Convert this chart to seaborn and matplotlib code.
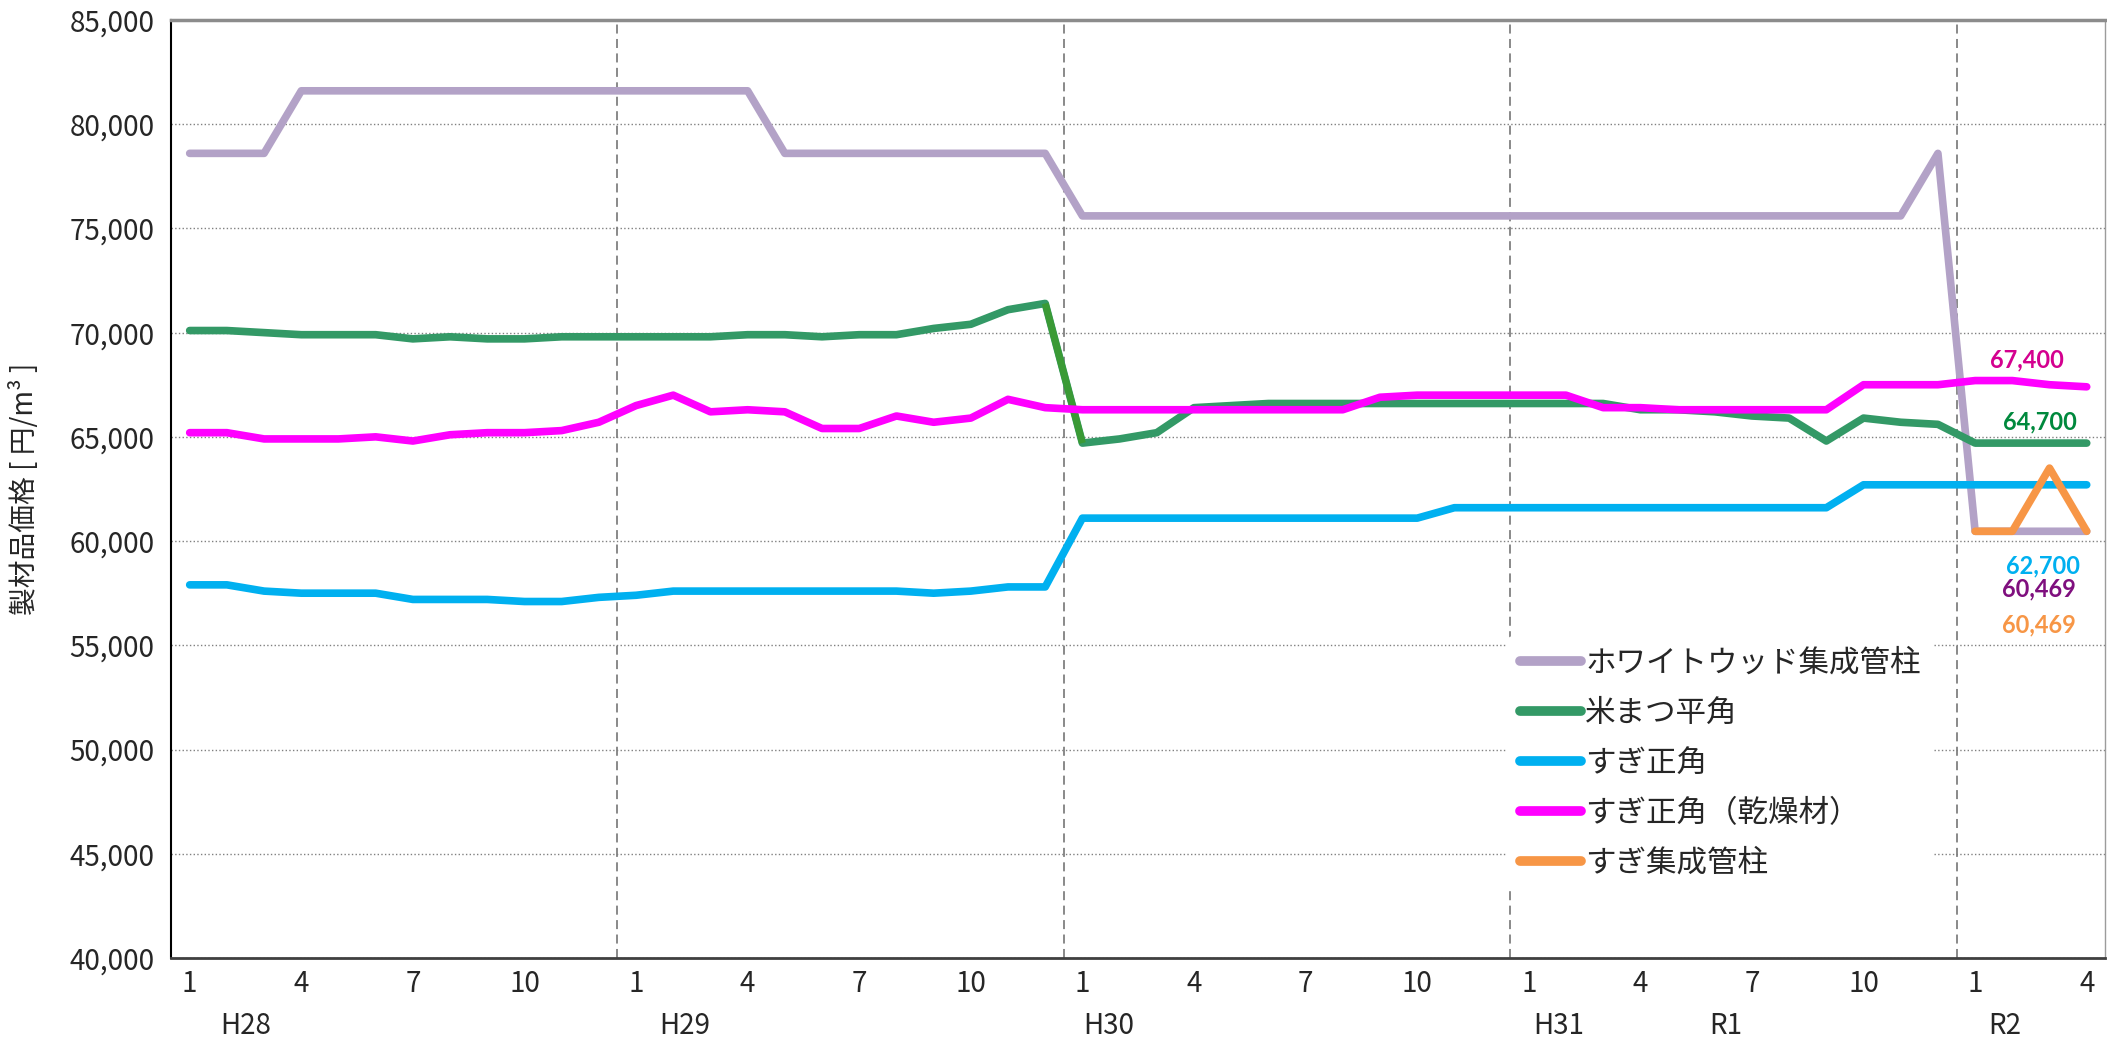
import numpy as np
import pandas as pd
import matplotlib
matplotlib.use('Agg')
import matplotlib.pyplot as plt
import matplotlib.transforms as mtransforms
from matplotlib.ticker import FuncFormatter
import seaborn as sns

# 月 (H28.1 ～ R2.4)
months = [m for _ in range(4) for m in range(1, 13)] + [1, 2, 3, 4]
eras = ['H28', 'H29', 'H30', 'H31', 'R1', 'R2']
era_pos = [1.5, 13.3, 24.7, 36.8, 41.3, 48.8]

names = ['ホワイトウッド集成管柱', '米まつ平角', 'すぎ正角', 'すぎ正角（乾燥材）', 'すぎ集成管柱']
colors = ['#B3A2C7', '#339966', '#00B0F0', '#FF00FF', '#F79646']

whitewood = [78600, 78600, 78600, 81600, 81600, 81600, 81600, 81600, 81600, 81600, 81600, 81600,
             81600, 81600, 81600, 81600, 78600, 78600, 78600, 78600, 78600, 78600, 78600, 78600,
             75600, 75600, 75600, 75600, 75600, 75600, 75600, 75600, 75600, 75600, 75600, 75600,
             75600, 75600, 75600, 75600, 75600, 75600, 75600, 75600, 75600, 75600, 75600, 78600,
             60469, 60469, 60469, 60469]
beimatsu = [70100, 70100, 70000, 69900, 69900, 69900, 69700, 69800, 69700, 69700, 69800, 69800,
            69800, 69800, 69800, 69900, 69900, 69800, 69900, 69900, 70200, 70400, 71100, 71400,
            64700, 64900, 65200, 66400, 66500, 66600, 66600, 66600, 66600, 66600, 66600, 66600,
            66600, 66600, 66600, 66300, 66300, 66200, 66000, 65900, 64800, 65900, 65700, 65600,
            64700, 64700, 64700, 64700]
sugi = [57900, 57900, 57600, 57500, 57500, 57500, 57200, 57200, 57200, 57100, 57100, 57300,
        57400, 57600, 57600, 57600, 57600, 57600, 57600, 57600, 57500, 57600, 57800, 57800,
        61100, 61100, 61100, 61100, 61100, 61100, 61100, 61100, 61100, 61100, 61600, 61600,
        61600, 61600, 61600, 61600, 61600, 61600, 61600, 61600, 61600, 62700, 62700, 62700,
        62700, 62700, 62700, 62700]
sugi_dry = [65200, 65200, 64900, 64900, 64900, 65000, 64800, 65100, 65200, 65200, 65300, 65700,
            66500, 67000, 66200, 66300, 66200, 65400, 65400, 66000, 65700, 65900, 66800, 66400,
            66300, 66300, 66300, 66300, 66300, 66300, 66300, 66300, 66900, 67000, 67000, 67000,
            67000, 67000, 66400, 66400, 66300, 66300, 66300, 66300, 66300, 67500, 67500, 67500,
            67700, 67700, 67500, 67400]
sugi_glulam = [np.nan] * 48 + [60469, 60469, 63500, 60469]

series = [whitewood, beimatsu, sugi, sugi_dry, sugi_glulam]
idx = list(range(len(months)))

df = pd.concat([pd.DataFrame({'idx': idx, 'price': v, 'series': n}) for n, v in zip(names, series)])
df = df.dropna()

sns.set_style('white')
plt.rcParams['font.family'] = ['Noto Sans CJK JP', 'DejaVu Sans']

fig = plt.figure(figsize=(21.07, 10.44), dpi=100)
ax = fig.add_axes([0.0812, 0.0824, 0.918, 0.8985])

sns.lineplot(data=df, x='idx', y='price', hue='series', hue_order=names, palette=colors,
             linewidth=5.5, estimator=None, sort=False, ax=ax)

for ln in ax.lines:
    ln.set_solid_capstyle('round')
    ln.set_solid_joinstyle('round')
# 乾燥材・集成管柱を前面に
ax.lines[3].set_zorder(2.6)
ax.lines[4].set_zorder(2.7)

# 米まつ平角 H29.12 -> H30.1 の区間だけ色が違う
ax.plot(idx[23:25], beimatsu[23:25], color='#3A9A35', lw=5, zorder=2.3, solid_capstyle='butt')

ax.set_xlim(-0.5, len(months) - 0.5)
ax.set_ylim(40000, 85000)
ax.set_yticks(range(40000, 85001, 5000))
ax.yaxis.set_major_formatter(FuncFormatter(lambda v, p: f'{int(v):,}'))
ax.yaxis.grid(True, linestyle=':', color='#808080', linewidth=1)
ax.xaxis.grid(False)

# 年の区切り（破線）
for i, m in enumerate(months):
    if m == 1 and i > 0:
        ax.axvline(i - 0.5, color='#808080', linestyle=(0, (5, 3)), linewidth=1.3, zorder=1)

show = [i for i, m in enumerate(months) if m in (1, 4, 7, 10)]
ax.set_xticks(show)
ax.set_xticklabels([str(months[i]) for i in show], fontsize=20)
ax.set_xticks([i - 0.5 for i, m in enumerate(months) if m in (1, 7) and i > 0], minor=True)
ax.tick_params(axis='x', which='major', length=0, pad=8)
ax.tick_params(axis='x', which='minor', length=6, direction='in', color='#404040')
ax.tick_params(axis='y', length=0, pad=12, labelsize=20)

trans = mtransforms.blended_transform_factory(ax.transData, ax.transAxes)
for e, p in zip(eras, era_pos):
    ax.text(p, -0.072, e, transform=trans, ha='center', va='center', fontsize=20)

ax.set_xlabel('')
ax.set_ylabel('製材品価格 [ 円/m³ ]', fontsize=20)
ax.yaxis.set_label_coords(-0.068, 0.5)

ax.spines['left'].set_color('black')
ax.spines['left'].set_linewidth(1.5)
ax.spines['bottom'].set_color('#404040')
ax.spines['bottom'].set_linewidth(2)
ax.spines['top'].set_color('#8c8c8c')
ax.spines['top'].set_linewidth(2.5)
ax.spines['right'].set_color('#9c9c9c')
ax.spines['right'].set_linewidth(1)

# 最終月の値
last = len(months) - 1
labels = [
    (sugi_dry[last], '#D4008F', (-60, 27)),
    (beimatsu[last], '#00893D', (-47, 21)),
    (sugi[last], '#00B0F0', (-44, -81)),
    (whitewood[last], '#7F0F7E', (-48, -58)),
    (sugi_glulam[last], '#F79646', (-48, -94)),
]
for v, c, off in labels:
    ax.annotate(f'{int(v):,}', xy=(last, v), xytext=off, textcoords='offset pixels',
                ha='center', va='center', color=c, fontsize=17, fontweight='bold',
                family=['Lato', 'DejaVu Sans'])

sns.move_legend(ax, loc='upper left', bbox_to_anchor=(0.683, 0.36), title=None,
                frameon=True, fontsize=22, handlelength=2.0, handletextpad=0.15,
                labelspacing=0.62, borderpad=0.4)
leg = ax.get_legend()
leg.get_frame().set_edgecolor('none')
leg.get_frame().set_facecolor('white')
leg.get_frame().set_alpha(1)
for h in leg.legend_handles:
    h.set_linewidth(7)
    h.set_solid_capstyle('round')

fig.savefig('out.png', dpi=100)
